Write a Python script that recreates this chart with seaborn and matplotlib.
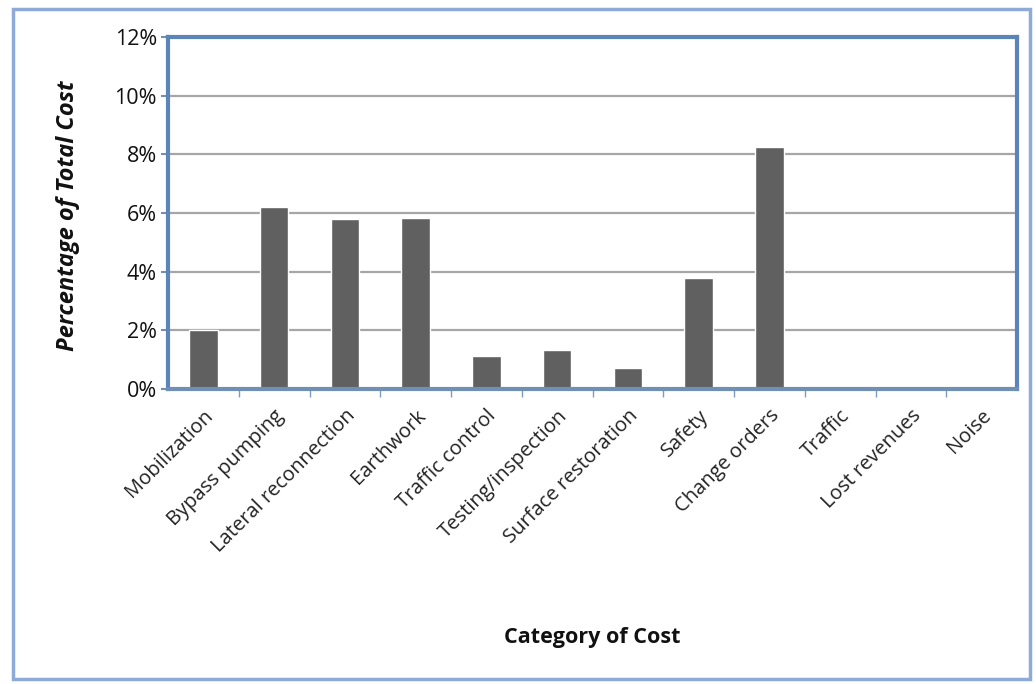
import matplotlib
matplotlib.use("Agg")
import matplotlib.pyplot as plt
from matplotlib.patches import Rectangle
from matplotlib.ticker import PercentFormatter, FixedLocator
import seaborn as sns
import pandas as pd
import numpy as np

categories = ["Mobilization", "Bypass pumping", "Lateral reconnection", "Earthwork",
              "Traffic control", "Testing/inspection", "Surface restoration", "Safety",
              "Change orders", "Traffic", "Lost revenues", "Noise"]
values = [2.0, 6.22, 5.79, 5.82, 1.13, 1.33, 0.73, 3.77, 8.24, 0.0, 0.0, 0.0]
yticks = [0, 2, 4, 6, 8, 10, 12]

sns.set_theme(style="white")
plt.rcParams['font.family'] = ['Open Sans', 'DejaVu Sans']

fig = plt.figure(figsize=(10.36, 6.84), dpi=100)
ax = fig.add_axes([168/1036, 1 - 389/684, (1017-168)/1036, (389-37)/684])

df = pd.DataFrame({"cat": categories, "val": values})
sns.barplot(data=df, x="cat", y="val", color="#606060", width=0.4, ax=ax, saturation=1)

ax.set_ylim(0, 12)
ax.set_xlim(-0.5, len(categories) - 0.5)
ax.set_yticks(yticks)
ax.yaxis.set_major_formatter(PercentFormatter(decimals=0))
ax.yaxis.grid(True, color="#a6a6a6", linewidth=1.6)
ax.set_axisbelow(True)

for s in ax.spines.values():
    s.set_visible(True)
    s.set_color("#5b84b8")
    s.set_linewidth(3)
ax.spines["bottom"].set_color("#6f8fb5")

ax.tick_params(axis="y", which="major", left=True, length=5, width=1.5, color="#6f8fb5",
               labelsize=15.5, pad=3, labelcolor="#111111")
ax.set_xticks(np.arange(len(categories)))
ax.set_xticklabels(categories, rotation=45, ha="right", rotation_mode="anchor",
                   fontsize=14.5, color="#222222")
ax.tick_params(axis="x", which="major", bottom=False, pad=6)
ax.xaxis.set_minor_locator(FixedLocator(np.arange(0.5, len(categories) - 0.5, 1)))
ax.tick_params(axis="x", which="minor", bottom=True, length=6, width=1, color="#7f9cc0")

ax.set_xlabel("")
ax.set_ylabel("")
fig.text(68/1036, 1 - 216/684, "Percentage of Total Cost", rotation=90, ha="center", va="center",
         fontsize=17, fontweight="bold", fontstyle="italic", color="#111111")
fig.text(592/1036, 1 - 638/684, "Category of Cost", ha="center", va="center",
         fontsize=15.5, fontweight="bold", color="#111111")

fig.patches.append(Rectangle((13/1036, 1 - 679/684), (1030-13)/1036, (679-9)/684,
                             transform=fig.transFigure, fill=False,
                             edgecolor="#8eaad6", linewidth=2.5))

fig.savefig("out.png", dpi=100)
